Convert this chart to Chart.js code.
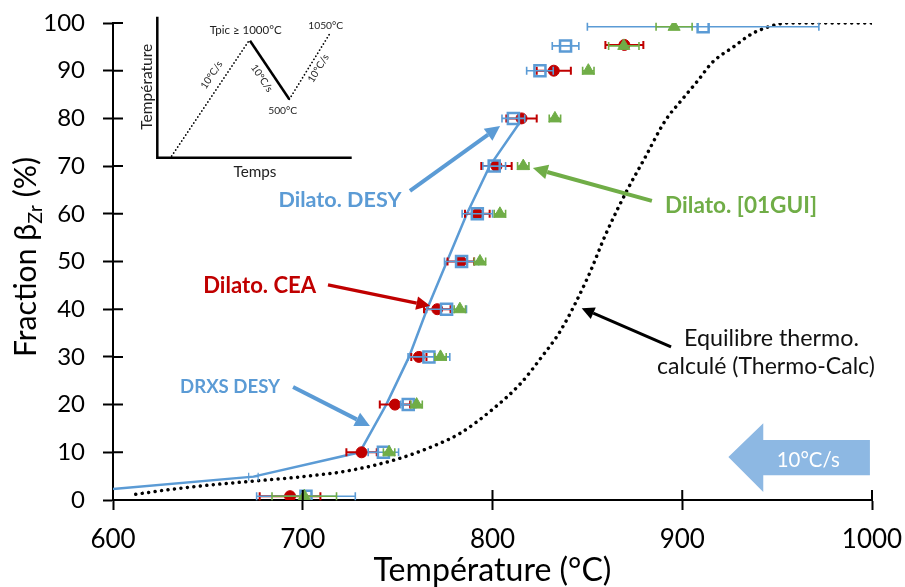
<!DOCTYPE html>
<html>
<head>
<meta charset="utf-8">
<script src="https://cdn.jsdelivr.net/npm/chart.js@4.4.1/dist/chart.umd.min.js"></script>
<style>
html,body{margin:0;padding:0;background:#fff}
</style>
</head>
<body>
<canvas id="c" width="905" height="587"></canvas>
<script>
// axes
const xTicks = [600, 700, 800, 900, 1000]
const yTicks = [0, 10, 20, 30, 40, 50, 60, 70, 80, 90, 100]

// DRXS DESY (open squares)
const drxsT = [701.7, 742.5, 755.6, 766.5, 775.8, 783.7, 792, 800.9, 811, 825, 838.5, 911]
const drxsF = [0.8, 10, 20, 30, 40, 50, 60, 70, 80, 90, 95.2, 99.2]
const drxsErr = [26, 8, 4, 11, 10.5, 9, 8, 6, 6, 7, 7, 61]

// Dilato. CEA (red dots)
const ceaT = [693.3, 731, 748.6, 761.2, 770.9, 783.3, 792, 802.1, 815.3, 832.3, 869.5]
const ceaF = [0.8, 10, 20, 30, 40, 50, 60, 70, 80, 90, 95.4]
const ceaErr = [16, 8, 8, 4, 7, 7, 6.5, 8, 8, 9, 10]

// Dilato. [01GUI] (green triangles)
const guiT = [700.8, 745.5, 760, 772.6, 782.8, 793.4, 803.9, 816.2, 832.9, 850.5, 869.2, 895.7]
const guiF = [0.8, 10, 20, 30, 40, 50, 60, 70, 80, 90, 95.2, 99.2]
const guiErr = [17, 3, 3, 3, 3, 3, 3, 3, 3, 3, 8, 9.5]

// Dilato. DESY (line)
const desyT = [600, 674, 730, 744, 756, 765.5, 776, 786.5, 798.5, 815]
const desyF = [2.3, 4.9, 10, 20, 30, 40, 50, 60, 70, 79.5]
const desyErr = [0, 2.5, 0, 0, 0, 0, 0, 0, 0, 0]

// Thermo-Calc equilibrium (dotted)
const thermoT = [612, 630, 650, 675, 700, 725, 750, 770, 783, 800, 815, 825, 836, 850, 860, 871, 880, 891, 900, 908, 916, 927, 937, 949, 955, 1000]
const thermoF = [1.2, 2.2, 3.1, 4.0, 4.9, 6.2, 8.6, 11.5, 14, 19, 24.5, 29.5, 35.6, 46.5, 56, 65, 71.5, 79.5, 84, 87.8, 91.8, 95, 97.8, 99.6, 100, 100]

const FONT = 'Lato, "Open Sans", sans-serif'
const BLUE = '#5B9BD5', RED = '#C00000', GREEN = '#70AD47'

function pts(xs, ys) { return xs.map((v, i) => ({ x: v, y: ys[i] })) }

// annotations (data coordinates), w = text width in px
const notes = [
    { text: 'Dilato. DESY', x: 719.6, y: 61.4, w: 123, color: BLUE, weight: 'bold' },
    { text: 'Dilato. CEA', x: 677.3, y: 43.3, w: 113, color: RED, weight: 'bold' },
    { text: 'DRXS DESY', x: 661.7, y: 22.5, w: 100, color: BLUE, weight: 'bold' },
    { text: 'Dilato. [01GUI]', x: 931, y: 60.1, w: 152, color: GREEN, weight: 'bold' },
    { text: 'Equilibre thermo.', x: 947, y: 32.35, w: 175, color: '#111', weight: 'normal' },
    { text: 'calculé (Thermo-Calc)', x: 944.1, y: 26.4, w: 218, color: '#111', weight: 'normal' }
]
const arrows = [
    { from: [756.5, 64.8], to: [804, 78.4], color: BLUE, w: 4 },
    { from: [713.3, 45.1], to: [767.1, 40.7], color: RED, w: 3.5 },
    { from: [694.9, 23.7], to: [735.4, 15.5], color: BLUE, w: 4 },
    { from: [884, 62.7], to: [821.3, 69.6], color: GREEN, w: 4 },
    { from: [894.1, 32.1], to: [847, 40.2], color: '#000', w: 3 }
]

function fitFont(ctx, text, weight, w) {
    ctx.font = weight + ' 100px ' + FONT
    let s = 100 * w / ctx.measureText(text).width
    ctx.font = weight + ' ' + s.toFixed(2) + 'px ' + FONT
    return s
}

function drawArrow(ctx, x1, y1, x2, y2, color, w) {
    let a = Math.atan2(y2 - y1, x2 - x1)
    let hl = 6 + w * 2.2, hw = hl * 0.5
    let bx = x2 - hl * Math.cos(a), by = y2 - hl * Math.sin(a)
    ctx.strokeStyle = color
    ctx.lineWidth = w
    ctx.beginPath()
    ctx.moveTo(x1, y1)
    ctx.lineTo(bx, by)
    ctx.stroke()
    ctx.fillStyle = color
    ctx.beginPath()
    ctx.moveTo(x2, y2)
    ctx.lineTo(bx + hw * Math.sin(a), by - hw * Math.cos(a))
    ctx.lineTo(bx - hw * Math.sin(a), by + hw * Math.cos(a))
    ctx.closePath()
    ctx.fill()
}

// horizontal error bars
const errorBars = {
    id: 'errorBars',
    afterDatasetDraw(chart, args) {
        let ds = chart.data.datasets[args.index]
        if (!ds.xErr) return
        let xs = chart.scales.x, ys = chart.scales.y, ctx = chart.ctx
        ctx.save()
        ctx.strokeStyle = ds.errColor || ds.borderColor
        ctx.lineWidth = ds.errWidth || 1.6
        ds.data.forEach((p, i) => {
            let e = ds.xErr[i]
            if (!e) return
            let y = ys.getPixelForValue(p.y)
            let x1 = xs.getPixelForValue(p.x - e), x2 = xs.getPixelForValue(p.x + e)
            ctx.beginPath()
            ctx.moveTo(x1, y); ctx.lineTo(x2, y)
            ctx.moveTo(x1, y - 4); ctx.lineTo(x1, y + 4)
            ctx.moveTo(x2, y - 4); ctx.lineTo(x2, y + 4)
            ctx.stroke()
        })
        ctx.restore()
    }
}

// titles, inner ticks, labels, arrows, inset
const decor = {
    id: 'decor',
    afterDraw(chart) {
        let ctx = chart.ctx, xs = chart.scales.x, ys = chart.scales.y, a = chart.chartArea
        ctx.save()
        // inner halves of the cross ticks
        ctx.strokeStyle = '#000'
        ctx.lineWidth = 2
        ctx.beginPath()
        yTicks.forEach(v => { let y = ys.getPixelForValue(v); ctx.moveTo(a.left, y); ctx.lineTo(a.left + 10, y) })
        xTicks.forEach(v => { let x = xs.getPixelForValue(v); ctx.moveTo(x, a.bottom); ctx.lineTo(x, a.bottom - 10) })
        ctx.stroke()

        // x title
        ctx.fillStyle = '#000'
        ctx.textAlign = 'center'
        ctx.textBaseline = 'alphabetic'
        fitFont(ctx, 'Température (°C)', 'normal', 238)
        ctx.fillText('Température (°C)', (a.left + a.right) / 2, 581)

        // y title with subscript
        ctx.save()
        ctx.translate(36, 257)
        ctx.rotate(-Math.PI / 2)
        let s = 28
        let big = 'normal ' + s + 'px ' + FONT, small = 'normal ' + (s * 0.65) + 'px ' + FONT
        ctx.font = big; let w1 = ctx.measureText('Fraction β').width, w3 = ctx.measureText(' (%)').width
        ctx.font = small; let w2 = ctx.measureText('Zr').width
        let k = 200 / (w1 + w2 + w3)
        s = s * k
        big = 'normal ' + s + 'px ' + FONT; small = 'normal ' + (s * 0.65) + 'px ' + FONT
        let x0 = -100
        ctx.textAlign = 'left'
        ctx.font = big; ctx.fillText('Fraction β', x0, 0); x0 += w1 * k
        ctx.font = small; ctx.fillText('Zr', x0, 6); x0 += w2 * k
        ctx.font = big; ctx.fillText(' (%)', x0, 0)
        ctx.restore()

        // annotation labels
        ctx.textAlign = 'center'
        notes.forEach(n => {
            fitFont(ctx, n.text, n.weight, n.w)
            ctx.fillStyle = n.color
            ctx.fillText(n.text, xs.getPixelForValue(n.x), ys.getPixelForValue(n.y))
        })
        arrows.forEach(r => {
            drawArrow(ctx, xs.getPixelForValue(r.from[0]), ys.getPixelForValue(r.from[1]),
                xs.getPixelForValue(r.to[0]), ys.getPixelForValue(r.to[1]), r.color, r.w)
        })

        // big "10°C/s" arrow
        let X = v => xs.getPixelForValue(v), Y = v => ys.getPixelForValue(v)
        ctx.fillStyle = '#8DB8E3'
        ctx.beginPath()
        ctx.moveTo(X(998.9), Y(12.6))
        ctx.lineTo(X(942.7), Y(12.6))
        ctx.lineTo(X(942.7), Y(16.1))
        ctx.lineTo(X(924.3), Y(9.0))
        ctx.lineTo(X(942.7), Y(1.7))
        ctx.lineTo(X(942.7), Y(5.2))
        ctx.lineTo(X(998.9), Y(5.2))
        ctx.closePath()
        ctx.fill()
        ctx.fillStyle = '#fff'
        fitFont(ctx, '10°C/s', 'normal', 63)
        ctx.fillText('10°C/s', X(966.4), Y(6.98))

        // inset: heating / cooling cycle sketch
        ctx.save()
        ctx.translate(a.left, a.top)
        ctx.strokeStyle = '#000'
        ctx.lineWidth = 2.5
        ctx.beginPath()
        ctx.moveTo(44.3, -6.3); ctx.lineTo(44.3, 134.7); ctx.lineTo(238.7, 134.7)
        ctx.stroke()
        ctx.beginPath()
        ctx.moveTo(137, 17.7); ctx.lineTo(176.3, 76.3)
        ctx.stroke()
        ctx.lineWidth = 1.8
        ctx.lineCap = 'round'
        ctx.setLineDash([0.01, 3.6])
        ctx.beginPath()
        ctx.moveTo(58.7, 133); ctx.lineTo(136, 17.7)
        ctx.moveTo(176.3, 76.3); ctx.lineTo(217, 10.3)
        ctx.stroke()
        ctx.setLineDash([])
        ctx.fillStyle = '#222'
        ctx.textAlign = 'center'
        ctx.textBaseline = 'middle'
        fitFont(ctx, 'Tpic ≥ 1000°C', 'normal', 72)
        ctx.fillText('Tpic ≥ 1000°C', 132.7, 7.7)
        fitFont(ctx, '1050°C', 'normal', 35)
        ctx.fillText('1050°C', 212.7, 3)
        fitFont(ctx, '500°C', 'normal', 29)
        ctx.fillText('500°C', 169.7, 88)
        fitFont(ctx, 'Temps', 'normal', 43)
        ctx.fillText('Temps', 142, 148.7)
        let rot = [[98.7, 52, -56.2], [148.7, 55.3, 56.2], [205.3, 45.3, -58.3]]
        rot.forEach(r => {
            ctx.save()
            ctx.translate(r[0], r[1])
            ctx.rotate(r[2] * Math.PI / 180)
            fitFont(ctx, '10°C/s', 'normal', 31)
            ctx.fillText('10°C/s', 0, 0)
            ctx.restore()
        })
        ctx.save()
        ctx.translate(33.7, 63.7)
        ctx.rotate(-Math.PI / 2)
        fitFont(ctx, 'Température', 'normal', 86)
        ctx.fillText('Température', 0, 0)
        ctx.restore()
        ctx.restore()

        ctx.restore()
    }
}

const config = {
    type: 'scatter',
    data: {
        datasets: [
            {
                label: 'Dilato. [01GUI]', data: pts(guiT, guiF), xErr: guiErr,
                pointStyle: 'triangle', pointRadius: 7, backgroundColor: GREEN, borderColor: GREEN,
                borderWidth: 1, errWidth: 1.6, order: 1
            },
            {
                label: 'DRXS DESY', data: pts(drxsT, drxsF), xErr: drxsErr,
                pointStyle: 'rect', pointRadius: 7.8, backgroundColor: 'rgba(0,0,0,0)', borderColor: BLUE,
                borderWidth: 2.5, errWidth: 1.6, order: 2
            },
            {
                label: 'Dilato. CEA', data: pts(ceaT, ceaF), xErr: ceaErr,
                pointStyle: 'circle', pointRadius: 5.5, backgroundColor: RED, borderColor: RED,
                borderWidth: 1, errWidth: 2, order: 3
            },
            {
                label: 'Dilato. DESY', data: pts(desyT, desyF), xErr: desyErr,
                showLine: true, pointRadius: 0, borderColor: BLUE, borderWidth: 2.5, errWidth: 1.2, order: 4
            },
            {
                label: 'Equilibre thermo. calculé', data: pts(thermoT, thermoF),
                showLine: true, pointRadius: 0, borderColor: '#000', borderWidth: 3.5,
                borderDash: [0.01, 6.5], borderCapStyle: 'round', cubicInterpolationMode: 'monotone', order: 5
            }
        ]
    },
    options: {
        responsive: false,
        animation: false,
        events: [],
        layout: { padding: { top: 23, right: 33, left: 0, bottom: 0 } },
        plugins: { legend: { display: false }, tooltip: { enabled: false } },
        scales: {
            x: {
                type: 'linear', min: 600, max: 1000,
                afterBuildTicks: s => { s.ticks = xTicks.map(v => ({ value: v })) },
                afterFit: s => { s.height = 87; s.paddingLeft = 0; s.paddingRight = 0 },
                ticks: { font: { family: FONT, size: 26 }, color: '#000', padding: 14, callback: v => String(v) },
                grid: { drawOnChartArea: false, drawTicks: true, tickLength: 10, tickColor: '#000', tickWidth: 2, color: '#000' },
                border: { color: '#000', width: 2 }
            },
            y: {
                type: 'linear', min: 0, max: 100,
                afterBuildTicks: s => { s.ticks = yTicks.map(v => ({ value: v })) },
                afterFit: s => { s.width = 113; s.paddingTop = 0; s.paddingBottom = 0 },
                ticks: { font: { family: FONT, size: 24 }, color: '#000', padding: 18, callback: v => String(v) },
                grid: { drawOnChartArea: false, drawTicks: true, tickLength: 10, tickColor: '#000', tickWidth: 2, color: '#000' },
                border: { color: '#000', width: 2 }
            }
        }
    },
    plugins: [errorBars, decor]
}

const myChart = new Chart(document.getElementById('c'), config)
</script>
</body>
</html>
